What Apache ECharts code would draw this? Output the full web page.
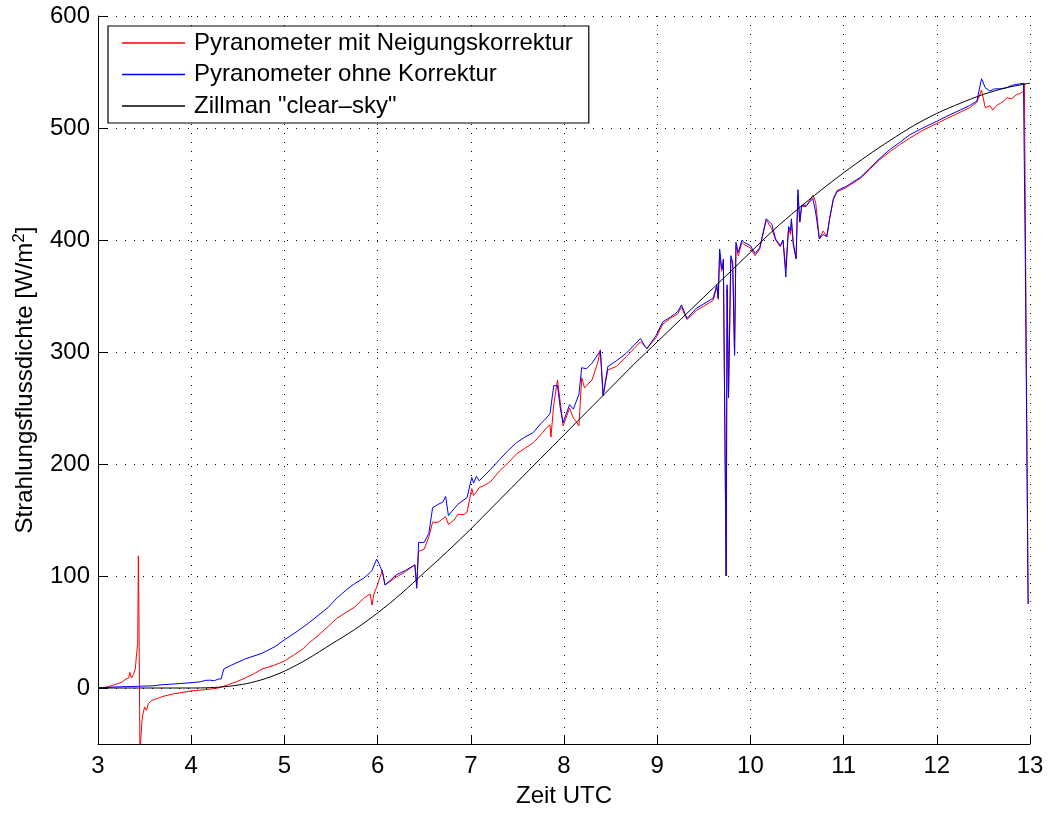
<!DOCTYPE html>
<html>
<head>
<meta charset="utf-8">
<script src="https://cdn.jsdelivr.net/npm/echarts@6/dist/echarts.min.js"></script>
<style>
html,body{margin:0;padding:0;background:#fff;}
#chart{width:1048px;height:813px;}
</style>
</head>
<body>
<div id="chart"></div>
<script>
// ---- data ----
const xTicks = [3,4,5,6,7,8,9,10,11,12,13];
const yTicks = [0,100,200,300,400,500,600];

const seriesNames = ['Pyranometer mit Neigungskorrektur','Pyranometer ohne Korrektur','Zillman "clear\u2013sky"'];

const redTime = [3.0,3.05,3.1,3.18,3.25,3.3,3.33,3.34,3.36,3.38,3.40,3.415,3.426,3.433,3.44,3.45,3.46,3.47,3.48,3.50,3.52,3.54,3.56,3.58,3.61,3.65,3.68,3.72,3.79,3.9,4.0,4.15,4.29,4.4,4.5,4.58,4.68,4.76,4.88,5.0,5.11,5.2,5.26,5.35,5.47,5.56,5.67,5.75,5.85,5.92,5.94,5.96,5.99,6.05,6.08,6.2,6.3,6.40,6.42,6.44,6.5,6.52,6.55,6.59,6.65,6.73,6.76,6.82,6.86,6.93,6.96,7.01,7.03,7.06,7.09,7.15,7.21,7.31,7.4,7.49,7.58,7.67,7.75,7.81,7.85,7.86,7.89,7.93,7.96,7.99,8.03,8.06,8.1,8.13,8.16,8.19,8.22,8.30,8.36,8.39,8.42,8.47,8.56,8.67,8.75,8.82,8.87,8.89,8.99,9.06,9.14,9.22,9.26,9.32,9.42,9.50,9.60,9.64,9.655,9.67,9.69,9.70,9.71,9.74,9.75,9.765,9.79,9.80,9.81,9.83,9.845,9.87,9.91,9.93,10.0,10.05,10.10,10.17,10.23,10.27,10.32,10.35,10.38,10.40,10.41,10.43,10.44,10.46,10.49,10.51,10.53,10.55,10.60,10.67,10.70,10.74,10.78,10.82,10.85,10.89,10.93,11.03,11.18,11.28,11.39,11.50,11.60,11.71,11.85,12.0,12.12,12.25,12.35,12.43,12.48,12.52,12.57,12.60,12.64,12.68,12.72,12.75,12.80,12.86,12.90,12.93,12.94,12.96,12.98];
const redVal  = [0,0.5,1,3,5,8,9,14,9,12,17,31,40,118,60,-60,-45,-31,-24,-17,-20,-14,-15,-11,-10,-9,-8,-7,-5.6,-4,-2.7,-1.5,0,3,6,9,13,17,20,24,30,35,40,46,55,62,68,72,80,84,74,84,90,105,92,99,104,110,92,122,124,124,135,148,148,153,146,150,155,155,157,178,172,175,179,181,184,194,201,209,214,219,226,232,235,224,253,275,255,234,243,250,241,238,234,277,268,275,290,302,261,284,287,296,303,309,305,303,313,325,330,334,340,329,337,341,346,358,347,388,372,372,381,100,356,262,383,382,378,298,395,386,398,396,393,386,392,418,410,400,394,399,375,398,410,405,416,395,384,440,416,430,430,440,434,401,408,403,419,436,443,447,455,463,472,479,485,491,498,504,509,514,518,523,534,518,520,516,520,522,524,527,526,530,531,533,540,300,75];

const blueTime = [3.0,3.2,3.43,3.6,3.68,3.8,4.0,4.1,4.15,4.2,4.25,4.29,4.32,4.35,4.42,4.58,4.76,4.9,5.0,5.11,5.26,5.35,5.47,5.56,5.67,5.75,5.85,5.92,5.94,5.99,6.02,6.05,6.08,6.2,6.3,6.40,6.42,6.44,6.46,6.5,6.55,6.59,6.65,6.70,6.73,6.76,6.82,6.86,6.96,7.01,7.03,7.06,7.09,7.21,7.31,7.4,7.49,7.58,7.67,7.75,7.81,7.85,7.89,7.93,7.96,7.99,8.06,8.1,8.16,8.19,8.24,8.30,8.39,8.42,8.47,8.56,8.67,8.75,8.82,8.87,8.89,8.99,9.06,9.14,9.22,9.26,9.32,9.42,9.50,9.60,9.64,9.655,9.67,9.69,9.70,9.71,9.74,9.75,9.765,9.79,9.80,9.81,9.83,9.845,9.87,9.91,9.93,10.0,10.05,10.10,10.17,10.23,10.27,10.32,10.35,10.38,10.40,10.41,10.43,10.44,10.46,10.49,10.51,10.53,10.55,10.60,10.67,10.70,10.74,10.78,10.82,10.85,10.89,10.93,11.03,11.18,11.28,11.39,11.50,11.60,11.71,11.85,12.0,12.12,12.25,12.35,12.43,12.48,12.52,12.57,12.62,12.68,12.75,12.80,12.86,12.93,12.95,12.98];
const blueVal  = [0,1,1.5,2,2.9,3.5,4.7,5.5,6.8,7,6.5,8,8,17,20,26,31,37,43,49,58,64,72,80,88,93,98,103,105,115,110,104,92,101,105,110,89,130,131,130,138,161,164,166,171,154,160,164,170,188,183,189,185,195,204,212,219,224,228,236,241,245,270,270,250,237,253,249,262,286,285,290,301,261,287,292,299,306,312,305,303,315,327,331,336,342,330,339,343,348,360,348,392,376,374,383,100,360,259,386,385,380,297,398,389,400,398,395,388,393,419,414,401,395,400,367,400,412,408,419,398,383,445,416,431,431,437,425,401,405,403,419,437,444,448,456,464,473,481,487,494,500,506,511,516,520,524,544,536,533,535,535,536,538,539,540,380,75];

const skyTime = [3,3.5,4,4.2,4.4,4.6,4.8,5,5.25,5.5,5.75,6,6.25,6.5,6.75,7,7.25,7.5,7.75,8,8.25,8.5,8.75,9,9.25,9.5,9.75,10,10.25,10.5,10.75,11,11.25,11.5,11.75,12,12.25,12.5,12.75,13];
const skyVal  = [0,0,0,0.3,1.5,4,8.5,15,26,39,52,67,84,103,122,142,163,184,205,226,247,268,289,309,329,349,369,389,409,427,444,460,475,489,502,513,522,530,536,540];

const zip = (a, b) => a.map((t, i) => [t, b[i]]);

const FONT = '"Liberation Sans", Arial, Helvetica, sans-serif';
const FS = 24;
const chart = echarts.init(document.getElementById('chart'), null, {renderer: 'canvas'});

const gridLine = {show: true, lineStyle: {color: '#000', type: [1, 8], width: 1}};

chart.setOption({
  animation: false,
  backgroundColor: '#fff',
  textStyle: {fontFamily: FONT},
  grid: {left: 98, right: 18, top: 16, bottom: 65, containLabel: false},
  legend: {
    left: 108, top: 26, orient: 'vertical',
    backgroundColor: '#fff', borderColor: '#000', borderWidth: 1.2,
    padding: [5, 16, 5, 14], itemGap: 7.5,
    itemWidth: 63, itemHeight: 1.5, icon: 'rect',
    textStyle: {fontSize: FS, color: '#000', fontFamily: FONT, lineHeight: 24, padding: [0, 0, 0, 4]},
    data: seriesNames
  },
  xAxis: [{
    type: 'value', min: 3, max: 13, interval: 1,
    axisLine: {onZero: false, lineStyle: {color: '#000', width: 1}},
    axisTick: {inside: true, length: 9, lineStyle: {color: '#000'}},
    axisLabel: {fontSize: FS, color: '#000', margin: 10, fontFamily: FONT, customValues: xTicks},
    splitLine: gridLine,
    name: 'Zeit UTC', nameLocation: 'middle', nameGap: 40,
    nameTextStyle: {fontSize: FS, color: '#000', fontFamily: FONT}
  }],
  yAxis: [{
    type: 'value', min: -50, max: 600,
    axisLine: {onZero: false, lineStyle: {color: '#000', width: 1}},
    axisTick: {inside: true, length: 9, lineStyle: {color: '#000'}, customValues: yTicks},
    axisLabel: {fontSize: FS, color: '#000', margin: 8, fontFamily: FONT, customValues: yTicks},
    splitLine: gridLine,
    name: 'Strahlungsflussdichte [W/m{sup|2}]', nameLocation: 'middle', nameRotate: 90, nameGap: 58,
    nameTextStyle: {fontSize: FS, color: '#000', fontFamily: FONT,
      rich: {sup: {fontSize: 17, verticalAlign: 'top', padding: [0, 0, 12, 0], color: '#000', fontFamily: FONT}}}
  }],
  series: [
    {name: seriesNames[0], type: 'line', data: zip(redTime, redVal), showSymbol: false, clip: true,
     lineStyle: {color: '#ff0000', width: 1}, itemStyle: {color: '#ff0000'}},
    {name: seriesNames[1], type: 'line', data: zip(blueTime, blueVal), showSymbol: false, clip: true,
     lineStyle: {color: '#0000ff', width: 1}, itemStyle: {color: '#0000ff'}},
    {name: seriesNames[2], type: 'line', data: zip(skyTime, skyVal), showSymbol: false, smooth: 0.3, clip: true,
     lineStyle: {color: '#000000', width: 1}, itemStyle: {color: '#000000'}}
  ]
});
</script>
</body>
</html>
